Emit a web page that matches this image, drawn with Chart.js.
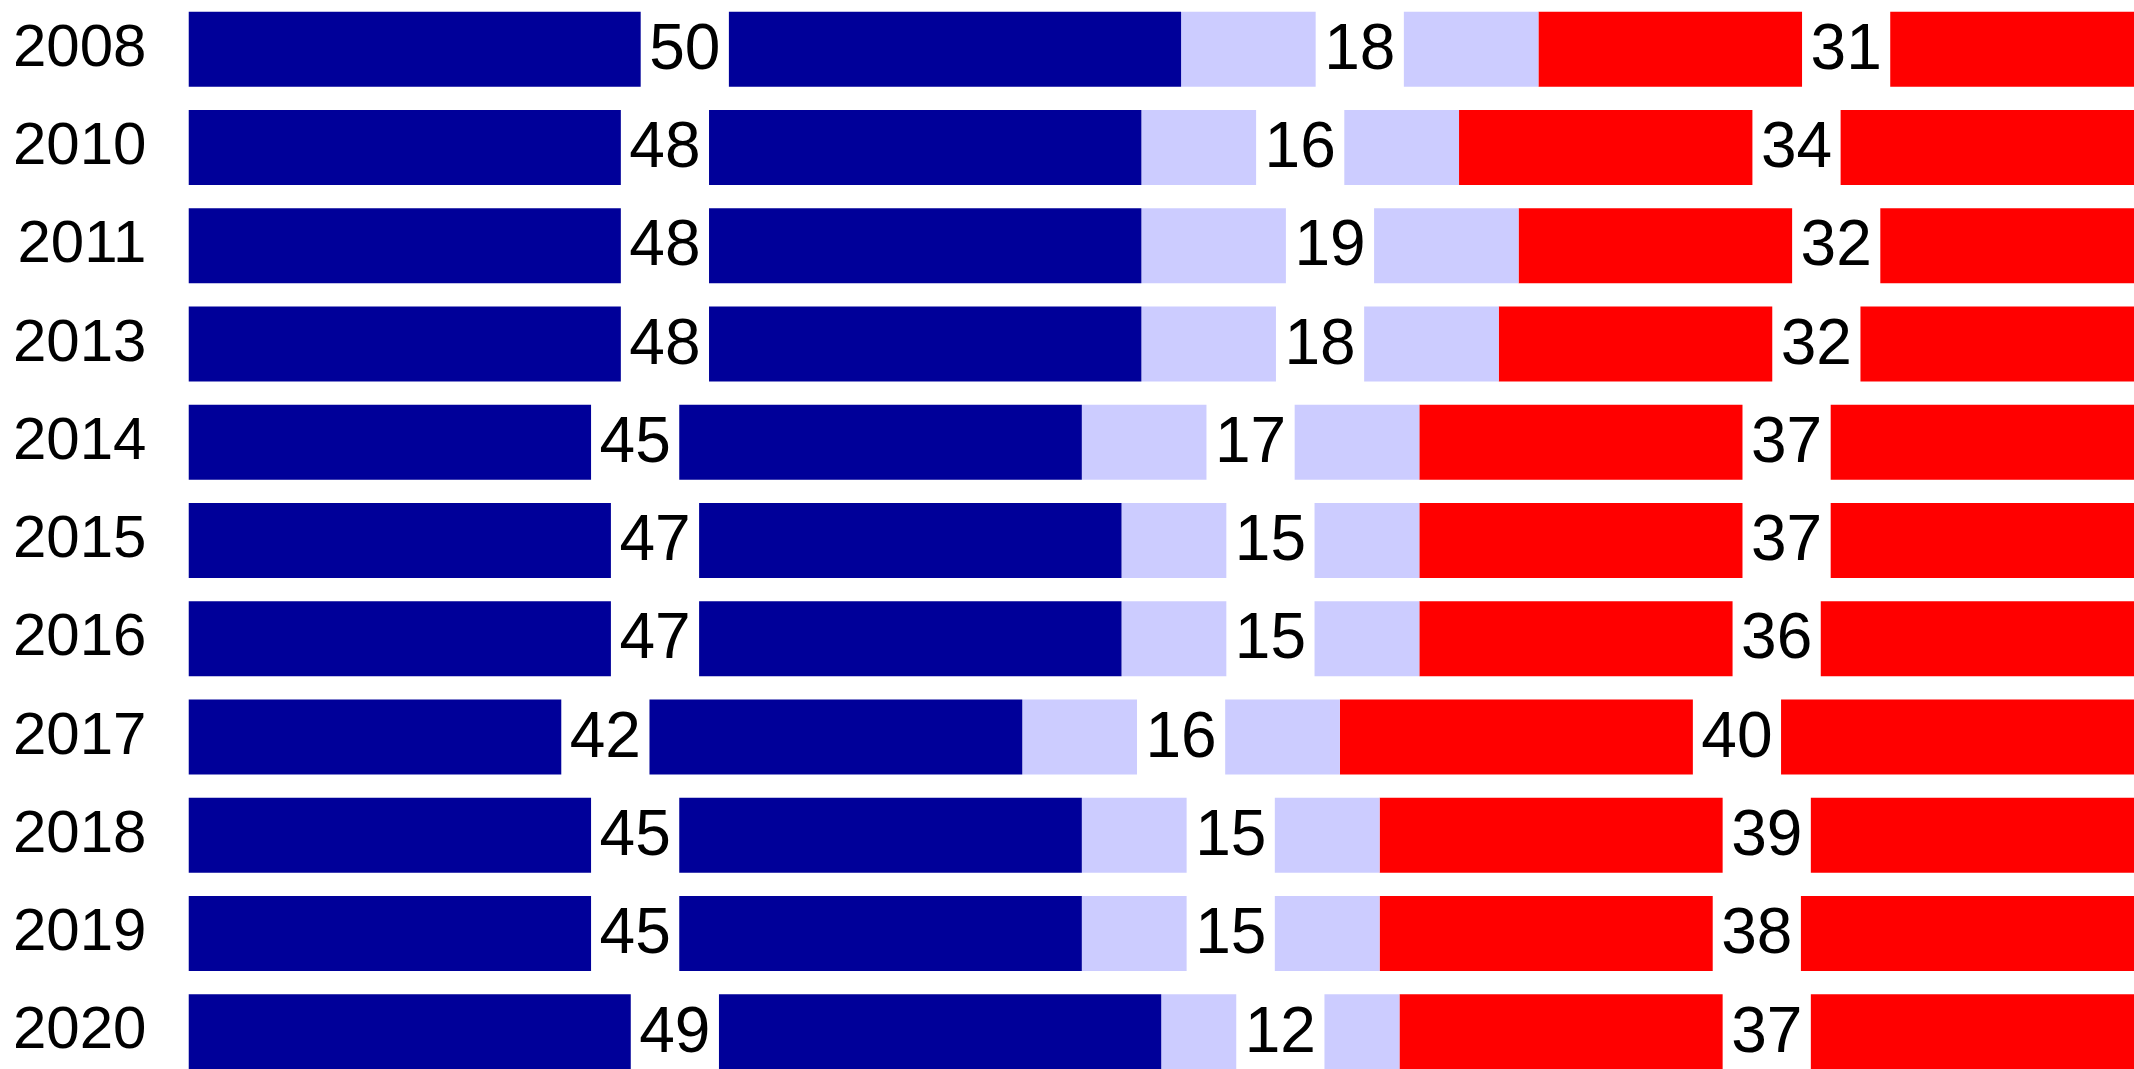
<!DOCTYPE html>
<html>
<head>
<meta charset="utf-8">
<script src="https://cdn.jsdelivr.net/npm/chart.js@4"></script>
<style>
  html, body { margin: 0; padding: 0; background: #fff; overflow: hidden; }
  #wrap { width: 2134px; height: 1069px; overflow: hidden; }
</style>
</head>
<body>
<div id="wrap"><canvas id="chart" width="2134" height="1081"></canvas></div>
<script>
// data
const years = ['2008', '2010', '2011', '2013', '2014', '2015', '2016', '2017', '2018', '2019', '2020'];
const dem = [50, 48, 48, 48, 45, 47, 47, 42, 45, 45, 49];
const ind = [18, 16, 19, 18, 17, 15, 15, 16, 15, 15, 12];
const rep = [31, 34, 32, 32, 37, 37, 36, 40, 39, 38, 37];

const FONT = '"Liberation Sans", Arial, sans-serif';

// white box with the number in the middle of each segment
const valueLabels = {
  id: 'valueLabels',
  afterDatasetsDraw(chart) {
    const c = chart.ctx;
    c.save();
    c.font = '64px ' + FONT;
    c.textAlign = 'center';
    c.textBaseline = 'middle';
    chart.data.datasets.forEach((ds, i) => {
      chart.getDatasetMeta(i).data.forEach((bar, j) => {
        const txt = String(ds.data[j]);
        const cx = (bar.x + bar.base) / 2;
        const w = c.measureText(txt).width + 17;
        c.fillStyle = '#fff';
        c.fillRect(cx - w / 2, bar.y - bar.height / 2 - 1, w, bar.height + 2);
        c.fillStyle = '#000';
        c.fillText(txt, cx, bar.y + 2);
      });
    });
    c.restore();
  }
};

new Chart(document.getElementById('chart'), {
  type: 'bar',
  data: {
    labels: years,
    datasets: [
      { label: 'Dem', data: dem, backgroundColor: '#000099' },
      { label: 'Ind', data: ind, backgroundColor: '#ccccff' },
      { label: 'Rep', data: rep, backgroundColor: '#ff0000' }
    ]
  },
  options: {
    indexAxis: 'y',
    responsive: false,
    animation: false,
    devicePixelRatio: 1,
    categoryPercentage: 1,
    barPercentage: 0.763,
    layout: { autoPadding: false, padding: { left: 13, right: 0, top: 0, bottom: 0 } },
    plugins: {
      legend: { display: false },
      tooltip: { enabled: false }
    },
    scales: {
      x: {
        stacked: true,
        display: false,
        min: 0,
        max: 98
      },
      y: {
        stacked: true,
        grid: { display: false, drawTicks: false },
        border: { display: false },
        ticks: {
          color: '#000',
          padding: 42,
          font: { family: FONT, size: 60 }
        },
        // chart.js pads the labels on both sides and above/below; keep only the gap to the bars
        afterFit(scale) {
          scale.width -= scale.options.ticks.padding;
          scale.paddingTop = 0;
          scale.paddingBottom = 0;
        }
      }
    }
  },
  plugins: [valueLabels]
});
</script>
</body>
</html>
